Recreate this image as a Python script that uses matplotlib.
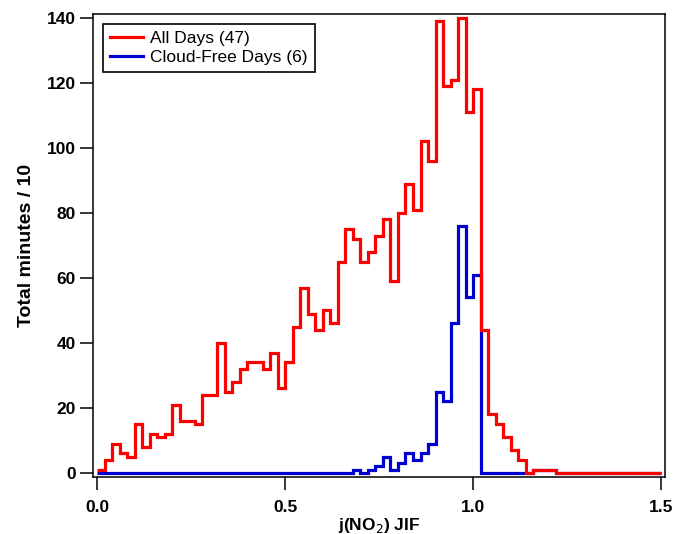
import numpy as np
import matplotlib
matplotlib.use('Agg')
import matplotlib.pyplot as plt

plt.rcParams['font.family'] = ['Liberation Sans', 'DejaVu Sans']

# histogram of j(NO2) JIF, bin width 0.02 from 0 to 1.5
bin_edges = np.round(np.arange(0, 1.5001, 0.02), 2)

all_days = [1, 4, 9, 6, 5, 15, 8, 12, 11, 12,
            21, 16, 16, 15, 24, 24, 40, 25, 28, 32,
            34, 34, 32, 37, 26, 34, 45, 57, 49, 44,
            50, 46, 65, 75, 72, 65, 68, 73, 78, 59,
            80, 89, 81, 102, 96, 139, 119, 121, 140, 111,
            118, 44, 18, 15, 11, 7, 4, 0, 1, 1,
            1, 0, 0, 0, 0, 0, 0, 0, 0, 0,
            0, 0, 0, 0, 0]

cloud_free = [0, 0, 0, 0, 0, 0, 0, 0, 0, 0,
              0, 0, 0, 0, 0, 0, 0, 0, 0, 0,
              0, 0, 0, 0, 0, 0, 0, 0, 0, 0,
              0, 0, 0, 0, 1, 0, 1, 2, 5, 1,
              3, 6, 4, 6, 9, 25, 22, 46, 76, 54,
              61, 0, 0, 0, 0, 0, 0, 0, 1, 1,
              1, 0, 0, 0, 0, 0, 0, 0, 0, 0,
              0, 0, 0, 0, 0]

labels = ['All Days (47)', 'Cloud-Free Days (6)']
colors = ['#ff0000', '#0000d0']

fig = plt.figure(figsize=(6.74, 5.34), dpi=100)
ax = fig.add_axes([0.138, 0.107, 0.849, 0.867])

ax.stairs(cloud_free, bin_edges, color=colors[1], lw=2.3, baseline=None, zorder=2)
ax.stairs(all_days, bin_edges, color=colors[0], lw=2.3, baseline=None, zorder=3)

# legend handles in the order of the original
h1, = ax.plot([], [], color=colors[0], lw=2.3)
h2, = ax.plot([], [], color=colors[1], lw=2.3)
leg = ax.legend([h1, h2], labels, loc='upper left', fontsize=12.5,
                fancybox=False, edgecolor='black', framealpha=1,
                handlelength=1.9, handletextpad=0.4, borderpad=0.4,
                labelspacing=0.2, borderaxespad=0.6)
leg.get_frame().set_linewidth(1.2)

ax.set_xlim(-0.0106, 1.5106)
ax.set_ylim(-1.23, 141.2)
ax.set_xticks([0, 0.5, 1.0, 1.5])
ax.set_xticklabels(['0.0', '0.5', '1.0', '1.5'])
ax.set_yticks(np.arange(0, 141, 20))
ax.tick_params(direction='out', length=9.5, width=1.1, labelsize=12.5, pad=3)
ax.tick_params(axis='x', pad=7)
for lab in ax.get_xticklabels() + ax.get_yticklabels():
    lab.set_fontweight('bold')
for s in ax.spines.values():
    s.set_linewidth(1.1)

ax.set_ylabel('Total minutes / 10', fontsize=14, fontweight='bold', labelpad=8)
ax.set_xlabel('j(NO$_2$) JIF', fontsize=12.5, fontweight='bold', labelpad=1)

fig.savefig('out.png', dpi=100)
